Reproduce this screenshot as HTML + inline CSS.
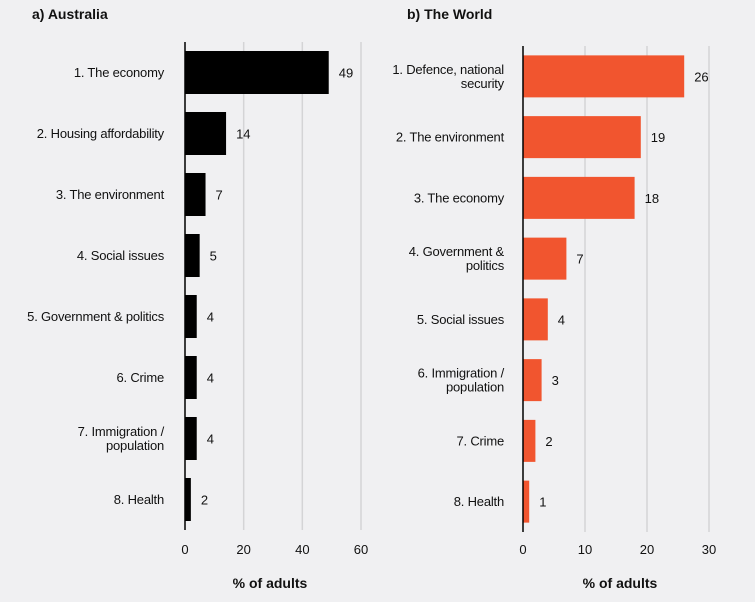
<!DOCTYPE html>
<html><head><meta charset="utf-8"><style>
html,body{margin:0;padding:0;background:#f0f0f2;}
svg{display:block;font-family:"Liberation Sans",sans-serif;}
</style></head><body>
<svg id="chart" width="755" height="602"></svg>
<script>
const ausCategories=["1. The economy","2. Housing affordability","3. The environment","4. Social issues","5. Government & politics","6. Crime","7. Immigration /|population","8. Health"];
const ausValues=[49,14,7,5,4,4,4,2];
const ausTicks=[0,20,40,60];
const worldCategories=["1. Defence, national|security","2. The environment","3. The economy","4. Government &|politics","5. Social issues","6. Immigration /|population","7. Crime","8. Health"];
const worldValues=[26,19,18,7,4,3,2,1];
const worldTicks=[0,10,20,30];

const NS="http://www.w3.org/2000/svg";
const svg=document.getElementById('chart');
function mk(tag,attrs,parent){const e=document.createElementNS(NS,tag);for(const k in attrs)e.setAttribute(k,attrs[k]);(parent||svg).appendChild(e);return e;}

function panel(cfg){
  const g=mk('g',{});
  
  
  const x=v=>cfg.x0+(v-cfg.ticks[0])*(cfg.x1-cfg.x0)/(cfg.ticks[cfg.ticks.length-1]-cfg.ticks[0]);
  const n=cfg.cats.length;
  const band=(cfg.yBottom-cfg.yTop)/n;
  const yc=i=>cfg.yTop+band*(i+0.5);
  const t=mk('text',{x:cfg.titleX,y:19,'font-size':14,'font-weight':'bold',fill:'#111'},g);
  t.textContent=cfg.title;
  
  
  cfg.ticks.forEach((tv,i)=>{
    if(i>0){const l=mk('line',{x1:x(tv),x2:x(tv),y1:cfg.yTop,y2:cfg.yBottom,stroke:'#d4d4d6','stroke-width':1.5},g);
      
      }
    const tl=mk('text',{x:x(tv),y:554,'font-size':13,'text-anchor':'middle',fill:'#111'},g);
    tl.textContent=tv;
    
    
  });
  cfg.cats.forEach((c,i)=>{
    const v=cfg.vals[i];
    const r=mk('rect',{x:x(0),y:yc(i)-cfg.barH/2,width:x(v)-x(0),height:cfg.barH,fill:cfg.color},g);
    
    
    const vl=mk('text',{x:x(v)+10,y:yc(i)+5,'font-size':13,fill:'#111'},g);
    vl.textContent=v;
    
    
    const lines=c.split('|');
    const lab=mk('text',{x:cfg.labelX,'font-size':13,'text-anchor':'end',fill:'#111','letter-spacing':'-0.2'},g);
    
    
    lines.forEach((ln,j)=>{
      const ts=mk('tspan',{x:cfg.labelX,y:yc(i)+4.5+(j-(lines.length-1)/2)*14},lab);
      ts.textContent=ln;
    });
  });
  const ax=mk('line',{x1:x(0),x2:x(0),y1:cfg.yTop,y2:cfg.yBottom,stroke:'#000','stroke-width':1.5},g);
  
  
  const xt=mk('text',{x:cfg.axTitleX,y:588,'font-size':14,'font-weight':'bold','text-anchor':'middle',fill:'#111'},g);
  xt.textContent='% of adults';
  
  
}
panel({name:'australia-panel',title:'a) Australia',titleX:32,cats:ausCategories,vals:ausValues,ticks:ausTicks,x0:185,x1:361,yTop:42,yBottom:530,barH:43,color:'#000',labelX:164,axTitleX:270});
panel({name:'world-panel',title:'b) The World',titleX:407,cats:worldCategories,vals:worldValues,ticks:worldTicks,x0:523,x1:709,yTop:46,yBottom:532,barH:42,color:'#f1552f',labelX:504,axTitleX:620});
</script>
</body></html>
